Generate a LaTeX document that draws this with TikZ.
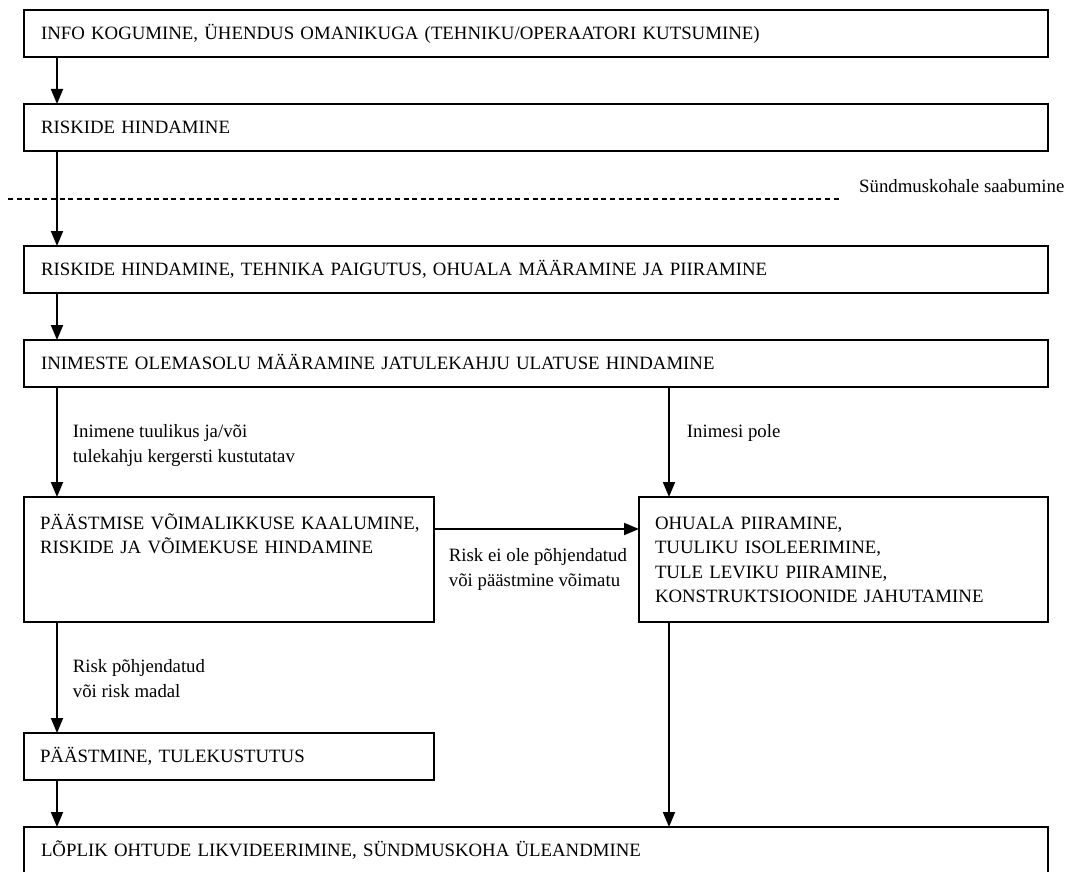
\documentclass[tikz,border=0pt]{standalone}
\usepackage{fontspec}
\setmainfont{Liberation Serif}
\usetikzlibrary{arrows.meta, positioning}

\begin{document}
\begin{tikzpicture}[
    x=1pt, y=-1pt,
    font=\fontsize{18.8pt}{24.5pt}\selectfont,
    box/.style={
        rectangle, draw, line width=1.9pt, outer sep=0pt,
        inner xsep=17pt, inner ysep=0pt,
        text height=12.5pt, text depth=0pt,
        minimum height=47pt, align=left
    },
    widebox/.style={box, text width=990pt},
    halfbox/.style={box, inner xsep=16pt, text width=378pt},
    tallbox/.style={
        halfbox, inner ysep=19.5pt,
        text depth=73.5pt, minimum height=125pt
    },
    lbl/.style={inner sep=0pt, align=left},
    arrow/.style={-{Triangle[width=12pt,length=15pt]}, line width=1.8pt},
    sepline/.style={line width=1.3pt, dash pattern=on 5pt off 3.6pt}
]

\useasboundingbox (0,0) rectangle (1071,872);

% Main vertical blocks
\node[widebox, anchor=north west] (info) at (24,10) {INFO KOGUMINE, ÜHENDUS OMANIKUGA (TEHNIKU/OPERAATORI KUTSUMINE)};
\node[widebox, below=47pt of info] (risk) {RISKIDE HINDAMINE};
\node[widebox, below=95pt of risk] (scene) {RISKIDE HINDAMINE, TEHNIKA PAIGUTUS, OHUALA MÄÄRAMINE JA PIIRAMINE};
\node[widebox, below=47pt of scene] (people) {INIMESTE OLEMASOLU MÄÄRAMINE JATULEKAHJU ULATUSE HINDAMINE};

% Split blocks
\node[tallbox, below=110pt of people.south west, anchor=north west] (weigh) {\mbox{PÄÄSTMISE VÕIMALIKKUSE KAALUMINE,}\\RISKIDE JA VÕIMEKUSE HINDAMINE};
\node[tallbox, text width=377pt, right=205pt of weigh] (barrier) {OHUALA PIIRAMINE,\\TUULIKU ISOLEERIMINE,\\TULE LEVIKU PIIRAMINE,\\KONSTRUKTSIOONIDE JAHUTAMINE};
\node[halfbox, below=111pt of weigh.south west, anchor=north west] (rescue) {PÄÄSTMINE, TULEKUSTUTUS};
\node[widebox, below=47pt of rescue.south west, anchor=north west] (final) {LÕPLIK OHTUDE LIKVIDEERIMINE, SÜNDMUSKOHA ÜLEANDMINE};

% Arrival line
\coordinate (sepL) at (8,199);
\coordinate (sepR) at (840,199);
\draw[sepline] (sepL) -- (sepR);
\node[lbl, anchor=base west] (arrival) at ([xshift=19pt, yshift=7pt]sepR) {Sündmuskohale saabumine};

% Helper points
\coordinate (rcol) at ([xshift=645pt]people.south west);
\coordinate (split) at ([yshift=-32pt]weigh.north east);

% Main arrows
\draw[arrow] ([xshift=33pt]info.south west) -- ([xshift=33pt]risk.north west);
\draw[arrow] ([xshift=33pt]risk.south west) -- ([xshift=33pt]scene.north west);
\draw[arrow] ([xshift=33pt]scene.south west) -- ([xshift=33pt]people.north west);

% Branch arrows
\draw[arrow] ([xshift=33pt]people.south west) -- node[lbl, pos=0.333, anchor=north west, xshift=15pt] (yeslbl) {Inimene tuulikus ja/või\\tulekahju kergersti kustutatav} ([xshift=33pt]weigh.north west);
\draw[arrow] (rcol) -- node[lbl, pos=0.333, anchor=north west, xshift=17pt] (nolbl) {Inimesi pole} (rcol |- barrier.north);
\draw[arrow] (split) -- node[lbl, pos=0, anchor=north west, xshift=14pt, yshift=-19pt] (badlbl) {Risk ei ole põhjendatud\\või päästmine võimatu} (split -| barrier.west);
\draw[arrow] ([xshift=33pt]weigh.south west) -- node[lbl, pos=0.333, anchor=north west, xshift=15pt] (oklbl) {Risk põhjendatud\\või risk madal} ([xshift=33pt]rescue.north west);

% Final arrows
\draw[arrow] ([xshift=33pt]rescue.south west) -- ([xshift=33pt]final.north west);
\draw[arrow] (rcol |- barrier.south) -- (rcol |- final.north);

\end{tikzpicture}
\end{document}
